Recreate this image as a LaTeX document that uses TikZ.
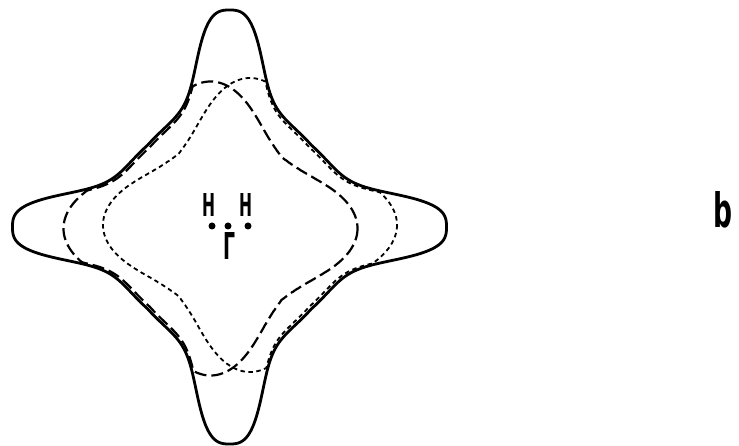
\documentclass[tikz,border=0pt]{standalone}
\usepackage{fontspec}
\setsansfont{DejaVu Sans}
\tikzset{
  jack/.style={line width=2.8pt, line join=round},
  holeA/.style={line width=2.2pt, dash pattern=on 12pt off 5pt},
  holeB/.style={line width=1.8pt, dash pattern=on 4.5pt off 3.5pt},
  kpoint/.style={font=\sffamily\bfseries, inner sep=0pt}
}
\begin{document}
\begin{tikzpicture}[x=1pt, y=-1pt,
    declare function={
      ang(\q)=abs(mod(\q+3645,90)-45);
      rs(\q)=114+103/(1+(ang(\q)/11.7)^3);
      rd(\q)=99+48*exp(-(ang(\q)/25)^2);
      px(\q,\u,\v)=rd(\q)*cos(\q)+\u;
      py(\q,\u,\v)=rd(\q)*sin(\q)+\v;
      pa(\q,\u,\v)=atan2(py(\q,\u,\v),px(\q,\u,\v));
      pr(\q,\u,\v)=min(veclen(px(\q,\u,\v),py(\q,\u,\v)),rs(pa(\q,\u,\v))-3);
    }]
    \useasboundingbox (0,0) rectangle (739,446);
    \coordinate (G) at (228,226);
    \draw[jack] plot[domain=0:360, samples=721, variable=\t]
      ({229.5+rs(\t)*cos(\t)}, {227+rs(\t)*sin(\t)}) -- cycle;
    \draw[holeA] plot[domain=0:360, samples=721, variable=\t]
      ({229.5+pr(\t,-19,1.5)*cos(pa(\t,-19,1.5))}, {227+pr(\t,-19,1.5)*sin(pa(\t,-19,1.5))}) -- cycle;
    \draw[holeB] plot[domain=0:360, samples=721, variable=\t]
      ({229.5+pr(\t,20.5,-2)*cos(pa(\t,20.5,-2))}, {227+pr(\t,20.5,-2)*sin(pa(\t,20.5,-2))}) -- cycle;
    \coordinate (h1) at (212,226);
    \coordinate (h2) at (248,226);
    \fill (h1) circle (3.5pt);
    \fill (G) circle (3.5pt);
    \fill (h2) circle (3.5pt);
    \node[kpoint] (H1) at (208.5,205) {\resizebox{13pt}{23pt}{H}};
    \node[kpoint] (H2) at (246,205) {\resizebox{13pt}{23pt}{H}};
    \node[kpoint] (Gam) at (229,246) {\resizebox{12pt}{27pt}{Γ}};
    \node[kpoint] (lbl) at (722.5,210) {\resizebox{19pt}{36pt}{b}};
\end{tikzpicture}
\end{document}
